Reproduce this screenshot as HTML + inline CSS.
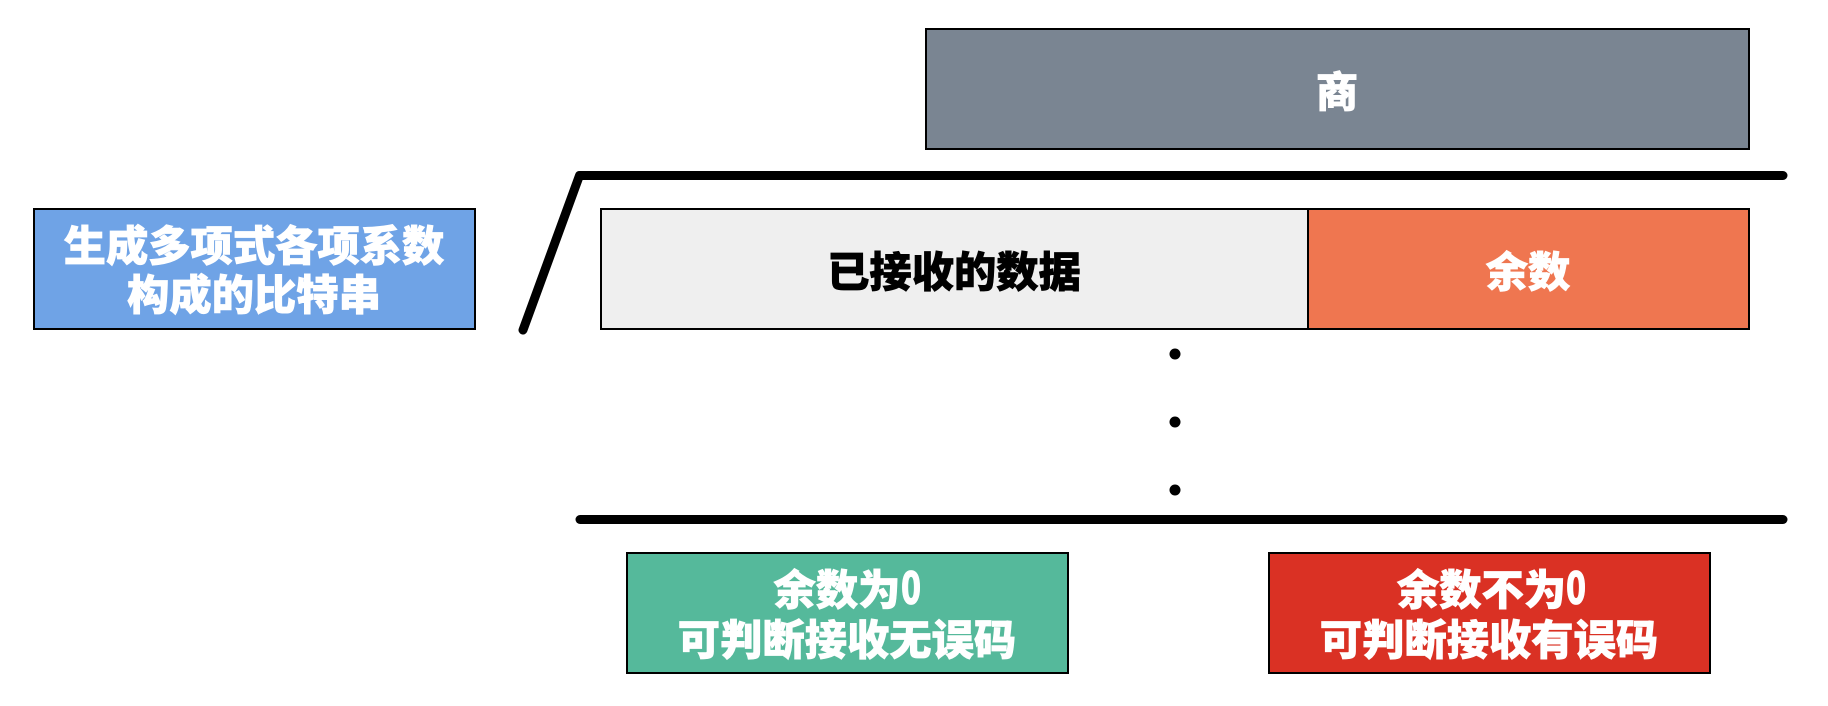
<!DOCTYPE html>
<html lang="zh"><head><meta charset="utf-8"><style>
html,body{margin:0;padding:0;background:#fff;width:1828px;height:706px;overflow:hidden}
svg{display:block}
text{font-family:"Liberation Sans","Noto Sans CJK SC",sans-serif;font-family:"Noto Sans CJK SC",sans-serif;font-weight:900;font-size:42.3px;text-anchor:middle;fill:#fff;stroke:#fff;stroke-width:.7px}
rect{stroke:#000;stroke-width:2}
</style></head><body>
<svg width="1828" height="706" viewBox="0 0 1828 706" xmlns="http://www.w3.org/2000/svg">
<rect x="926" y="29" width="823" height="120" fill="#7a8592"/>
<rect x="34" y="209" width="441" height="120" fill="#6fa3e6"/>
<rect x="601" y="209" width="707" height="120" fill="#efefef"/>
<rect x="1308" y="209" width="441" height="120" fill="#ef7650"/>
<rect x="627" y="553" width="441" height="120" fill="#55b99b"/>
<rect x="1269" y="553" width="441" height="120" fill="#da3124"/>
<path d="M523 330 L579.5 175.5 L1783 175.5" fill="none" stroke="#000" stroke-width="9" stroke-linecap="round" stroke-linejoin="round"/>
<path d="M580 519.5 L1783 519.5" fill="none" stroke="#000" stroke-width="9" stroke-linecap="round"/>
<circle cx="1175" cy="354" r="5.5" fill="#000"/>
<circle cx="1175" cy="422" r="5.5" fill="#000"/>
<circle cx="1175" cy="490" r="5.5" fill="#000"/>
<text x="1337" y="107">商</text>
<text x="254" y="261">生成多项式各项系数</text>
<text x="254" y="310">构成的比特串</text>
<text x="954" y="287" style="fill:#000;stroke:#000">已接收的数据</text>
<text x="1528" y="287">余数</text>
<text x="837" y="605">余数为</text>
<text transform="translate(911 604) scale(.78 1.05)">0</text>
<text x="847" y="655">可判断接收无误码</text>
<text x="1481.5" y="605">余数不为</text>
<text transform="translate(1576 604) scale(.78 1.05)">0</text>
<text x="1489" y="655">可判断接收有误码</text>
</svg>
</body></html>
